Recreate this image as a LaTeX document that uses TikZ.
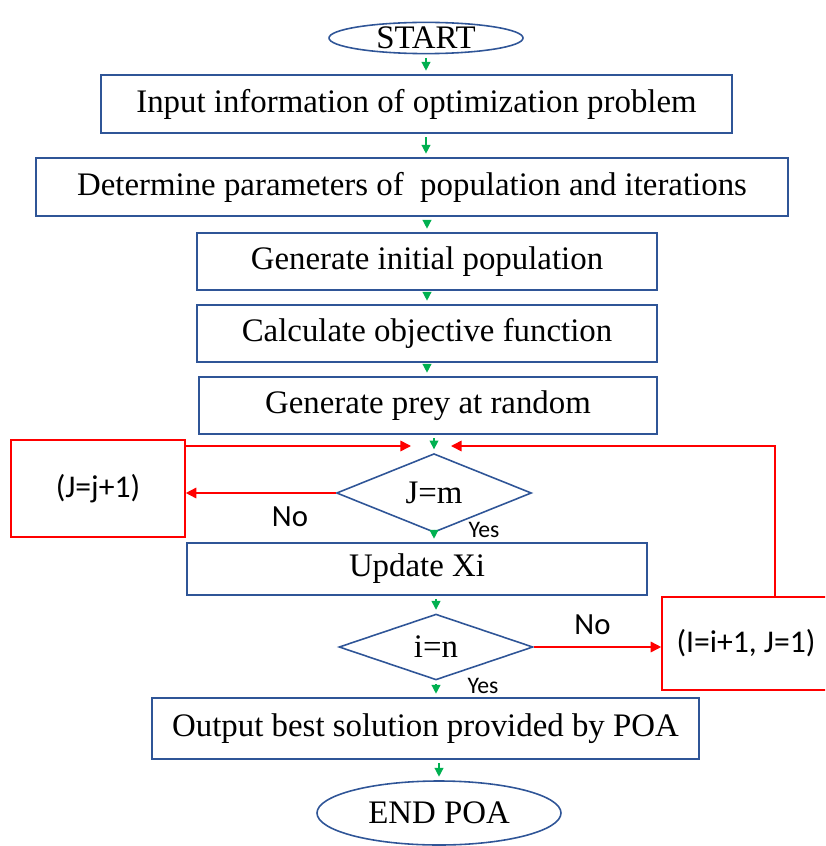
\documentclass[tikz,border=0pt]{standalone}
\usepackage{fontspec}
\setmainfont{Liberation Serif}
\newfontfamily\labelfont{Carlito}
\usetikzlibrary{shapes.geometric}
\usetikzlibrary{arrows.meta}
\definecolor{boxblue}{RGB}{47,85,151}
\definecolor{flowgreen}{RGB}{0,176,80}
\definecolor{loopred}{RGB}{255,0,0}

\begin{document}
\begin{tikzpicture}[
  every node/.style={font=\fontsize{18.7}{22}\selectfont},
  process/.style={draw=boxblue, line width=0.9pt, inner sep=0pt},
  terminal/.style={ellipse, draw=boxblue, line width=0.9pt, inner sep=0pt},
  decision/.style={diamond, draw=boxblue, line width=0.9pt, inner sep=0pt},
  counter/.style={draw=loopred, line width=0.9pt, inner sep=0pt, font=\labelfont\fontsize{18}{21}\selectfont},
  answer/.style={font=\labelfont\fontsize{17.5}{21}\selectfont},
  smallanswer/.style={font=\labelfont\fontsize{13.5}{16}\selectfont},
  flow/.style={draw=flowgreen, line width=0.8pt, -{Triangle[length=5pt,width=5pt]}, shorten <=2pt, shorten >=2pt},
  back/.style={draw=loopred, line width=0.9pt, -{Triangle[length=6pt,width=6pt]}}
]
\useasboundingbox (0,0) rectangle (16.5,-16.92);
\clip (0,0) rectangle (16.5,-16.92);

% main column
\node[terminal, minimum width=3.88cm, minimum height=0.6cm] (start) at (8.52,-0.76) {START};
\node[process, minimum width=12.62cm, minimum height=1.16cm] (input) at (8.33,-2.08) {Input information of optimization problem};
\node[process, minimum width=15.04cm, minimum height=1.16cm] (params) at (8.24,-3.74) {Determine parameters of \ population and iterations};
\node[process, minimum width=9.2cm, minimum height=1.14cm] (init) at (8.54,-5.23) {Generate initial population};
\node[process, minimum width=9.2cm, minimum height=1.14cm] (objective) at (8.54,-6.67) {Calculate objective function};
\node[process, minimum width=9.16cm, minimum height=1.14cm] (prey) at (8.56,-8.11) {Generate prey at random};
\node[decision, minimum width=3.9cm, minimum height=1.32cm] (checkj) at (8.68,-9.86) {J=m};
\node[process, minimum width=9.2cm, minimum height=1.04cm] (update) at (8.34,-11.38) {Update Xi};
\node[decision, minimum width=3.88cm, minimum height=1.22cm] (checki) at (8.72,-12.94) {i=n};
\node[process, minimum width=10.94cm, minimum height=1.22cm] (output) at (8.51,-14.57) {Output best solution provided by POA};
\node[terminal, minimum width=4.88cm, minimum height=1.28cm] (finish) at (8.78,-16.26) {END POA};

% loop counters
\node[counter, minimum width=3.48cm, minimum height=1.94cm] (jbox) at (1.96,-9.77) {(J=j+1)};
\node[counter, minimum width=3.36cm, minimum height=1.86cm] (ibox) at (14.92,-12.87) {(I=i+1, J=1)};

\node[answer] (no1) at (5.8,-10.33) {No};
\node[smallanswer] (yes1) at (9.68,-10.6) {Yes};
\node[answer] (no2) at (11.85,-12.5) {No};
\node[smallanswer] (yes2) at (9.66,-13.72) {Yes};

\draw[flow] (start.south) -- (start.south |- input.north);
\draw[flow] (input.south -| start.south) -- (params.north -| start.south);
\draw[flow] (params.south -| init.north) -- (init.north);
\draw[flow] (init.south) -- (objective.north);
\draw[flow] (objective.south) -- (objective.south |- prey.north);
\draw[flow] (prey.south -| checkj.north) -- (checkj.north);
\draw[flow] (checkj.south) -- (checkj.south |- update.north);
\draw[flow] (update.south -| checki.north) -- (checki.north);
\draw[flow] (checki.south) -- (checki.south |- output.north);
\draw[flow] (output.south -| finish.north) -- (finish.north);

\coordinate (joinL) at (8.22,-8.92);
\coordinate (joinR) at (9.02,-8.92);
\coordinate (loopup) at (15.5,-8.92);
\draw[back] (checkj.west) -- (checkj.west -| jbox.east);
\draw[back] (jbox.east |- joinL) -- (joinL);
\draw[back] (checki.east) -- (checki.east -| ibox.west);
\draw[back] (loopup |- ibox.north) -- (loopup) -- (joinR);
\end{tikzpicture}
\end{document}
